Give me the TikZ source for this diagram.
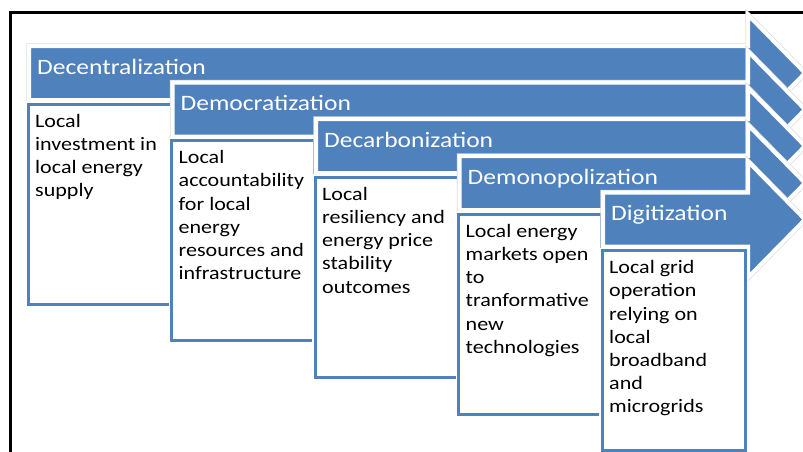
\documentclass[tikz,border=0pt]{standalone}
\usepackage{fontspec}
\setmainfont{Carlito}[FakeStretch=1.16]
\definecolor{stepblue}{HTML}{4F81BD}
\begin{document}
\begin{tikzpicture}[x=1pt,y=-1pt,
  chevron/.style={fill=stepblue, draw=white, line width=4pt, line join=miter,
    preaction={draw=black!13, line width=5.5pt}},
  steptitle/.style={anchor=base west, inner sep=0pt, text=white,
    font=\fontsize{22}{26}\selectfont},
  detailbox/.style={draw=stepblue, line width=3pt, fill=white,
    minimum width=143pt, minimum height=200pt, anchor=north west, inner sep=0pt,
    preaction={draw=white, line width=6pt}},
  detailtext/.style={anchor=north west, inner sep=0pt, align=left,
    font=\fontsize{19}{23.2}\selectfont, text=black}
]
\useasboundingbox (0,0) rectangle (803,451);
\clip (0,0) rectangle (803,451);

% outer frame
\draw[line width=3pt] (10,470) -- (10,12.5) -- (820,12.5);

% step 1
\draw[chevron] (29,46) -- (748,46) -- (748,15) -- (805,73) -- (748,131) -- (748,100) -- (29,100) -- cycle;
\node[steptitle] (t1) at (37,74) {Decentralization};
\node[detailbox] (b1) at (26.5,102.5) {};
\node[detailtext] (d1) at ([xshift=8.5pt,yshift=-10.5pt]b1.north west)
  {\rule{0pt}{14pt}Local\\investment in\\local energy\\supply};

% step 2
\draw[chevron] (172.5,82.5) -- (748,82.5) -- (748,51.5) -- (805,109.5) -- (748,167.5) -- (748,136.5) -- (172.5,136.5) -- cycle;
\node[steptitle] (t2) at (180.5,110.5) {Democratization};
\node[detailbox] (b2) at (170,139) {};
\node[detailtext] (d2) at ([xshift=8.5pt,yshift=-10.5pt]b2.north west)
  {\rule{0pt}{14pt}Local\\accountability\\for local\\energy\\resources and\\infrastructure};

% step 3
\draw[chevron] (316,119) -- (748,119) -- (748,88) -- (805,146) -- (748,204) -- (748,173) -- (316,173) -- cycle;
\node[steptitle] (t3) at (324,147) {Decarbonization};
\node[detailbox] (b3) at (313.5,175.5) {};
\node[detailtext] (d3) at ([xshift=8.5pt,yshift=-10.5pt]b3.north west)
  {\rule{0pt}{14pt}Local\\resiliency and\\energy price\\stability\\outcomes};

% step 4
\draw[chevron] (459.5,156) -- (748,156) -- (748,125) -- (805,183) -- (748,241) -- (748,210) -- (459.5,210) -- cycle;
\node[steptitle] (t4) at (467.5,184) {Demonopolization};
\node[detailbox] (b4) at (457,212.5) {};
\node[detailtext] (d4) at ([xshift=8.5pt,yshift=-10.5pt]b4.north west)
  {\rule{0pt}{14pt}Local energy\\markets open\\to\\tranformative\\new\\technologies};

% step 5
\draw[chevron] (603,192.5) -- (748,192.5) -- (748,161.5) -- (805,219.5) -- (748,277.5) -- (748,246.5) -- (603,246.5) -- cycle;
\node[steptitle] (t5) at (611,220.5) {Digitization};
\node[detailbox] (b5) at (600.5,249) {};
\node[detailtext] (d5) at ([xshift=8.5pt,yshift=-10.5pt]b5.north west)
  {\rule{0pt}{14pt}Local grid\\operation\\relying on\\local\\broadband\\and\\microgrids};
\end{tikzpicture}
\end{document}
